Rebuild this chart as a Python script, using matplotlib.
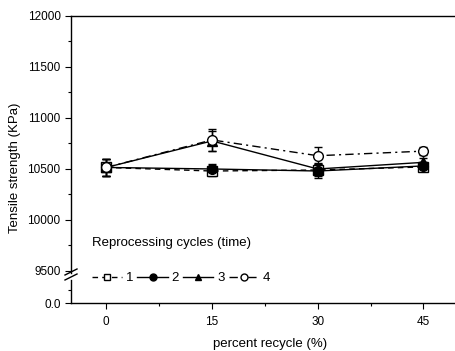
import matplotlib
matplotlib.use("Agg")
import matplotlib.pyplot as plt
from matplotlib.lines import Line2D

plt.rcParams['font.family'] = ['Liberation Sans', 'DejaVu Sans']
plt.rcParams['font.size'] = 8.5

# data
recycle = [0, 15, 30, 45]
cycle_labels = ['1', '2', '3', '4']
s1 = [10515, 10480, 10490, 10520]
s2 = [10515, 10500, 10480, 10530]
s3 = [10515, 10775, 10500, 10565]
s4 = [10515, 10785, 10630, 10675]
e1 = [85, 50, 60, 40]
e2 = [85, 50, 70, 40]
e3 = [85, 100, 60, 40]
e4 = [85, 105, 90, 40]

W, H = 456, 351
fig = plt.figure(figsize=(W / 100, H / 100), dpi=100)

def box(l, t, r, b):
    return [l / W, 1 - b / H, (r - l) / W, (b - t) / H]

# right edge of the plot lies past the picture
ax = fig.add_axes(box(71, 16, 470, 273))
axb = fig.add_axes(box(71, 280, 470, 303))
xlim = (-5, 51.6)

styles = [
    dict(ls=(0, (4, 3)), marker='s', mfc='white'),
    dict(ls='-', marker='o', mfc='black'),
    dict(ls='-', marker='^', mfc='black'),
    dict(ls=(0, (6, 3, 1.5, 3)), marker='o', mfc='white'),
]
series = [s1, s2, s3, s4]
errs = [e1, e2, e3, e4]
handles = []
for y, e, st in zip(series, errs, styles):
    ax.errorbar(recycle, y, yerr=e, color='black', lw=1.0, ls=st['ls'],
                marker=st['marker'], mfc=st['mfc'], mec='black', ms=7,
                capsize=3, elinewidth=1.0, capthick=1.0)
    handles.append(Line2D([], [], color='black', lw=1.0, ls=st['ls'],
                          marker=st['marker'], mfc=st['mfc'], mec='black', ms=5))

ax.set_xlim(*xlim)
ax.set_ylim(9480, 12000)
ax.set_yticks([9500, 10000, 10500, 11000, 11500, 12000])
ax.set_yticks([9750, 10250, 10750, 11250, 11750], minor=True)
ax.set_xticks([])
ax.spines['right'].set_visible(False)
ax.spines['bottom'].set_visible(False)
ax.tick_params(axis='y', direction='out', length=4.5, width=0.8, pad=3)
ax.tick_params(axis='y', which='minor', direction='out', length=2.5, width=0.8)
ax.set_ylabel('Tensile strength (KPa)', fontsize=9.5)
ax.yaxis.set_label_coords(-0.125, 0.41)

axb.set_xlim(*xlim)
axb.set_ylim(0, 1.8)
axb.set_yticks([0])
axb.set_yticklabels(['0.0'])
axb.set_yticks([1.0], minor=True)
axb.set_xticks(recycle)
axb.set_xticks([7.5, 22.5, 37.5], minor=True)
axb.spines['right'].set_visible(False)
axb.spines['top'].set_visible(False)
axb.tick_params(direction='out', length=4.5, width=0.8, pad=3)
axb.tick_params(which='minor', direction='out', length=2.5, width=0.8)
axb.tick_params(axis='x', pad=5)
axb.set_xlabel('percent recycle (%)', fontsize=9.5, labelpad=7)
axb.patch.set_alpha(0)

for a in (ax, axb):
    for sp in a.spines.values():
        sp.set_linewidth(1.0)

# break marks on the left spine
for dy in (272, 277):
    fig.add_artist(Line2D([65 / W, 77 / W], [1 - (dy + 3) / H, 1 - (dy - 3) / H],
                          color='black', lw=1.0))

fig.text(92 / W, 1 - 243 / H, 'Reprocessing cycles (time)', fontsize=9.5, va='center')
fig.legend(handles, cycle_labels, loc='center left', bbox_to_anchor=(85 / W, 1 - 278 / H),
           ncol=4, frameon=False, handlelength=2.3, handletextpad=0.3,
           columnspacing=0.3, fontsize=9.5, borderpad=0)

fig.savefig('out.png', dpi=100)
